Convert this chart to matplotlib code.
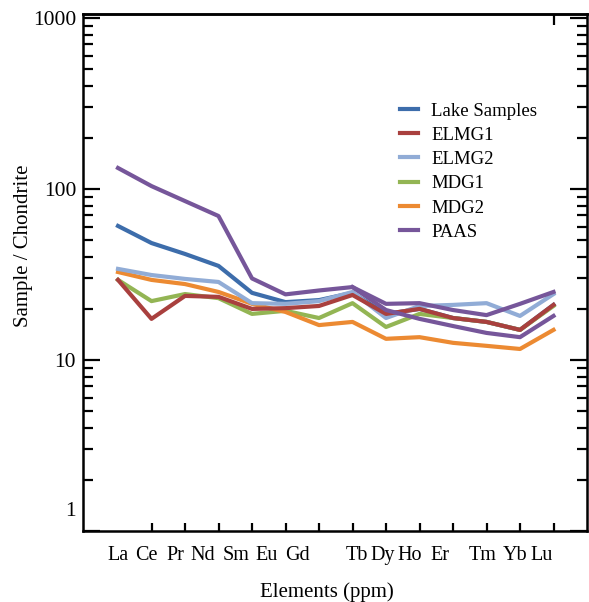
import matplotlib.pyplot as plt
from matplotlib.transforms import ScaledTranslation

plt.rcParams['font.family'] = ['Liberation Serif', 'DejaVu Serif']

elements = ['La', 'Ce', 'Pr', 'Nd', 'Sm', 'Eu', 'Gd', 'Tb', 'Dy', 'Ho', 'Er', 'Tm', 'Yb', 'Lu']

lake = [60.8, 48.3, 41.7, 35.5, 24.7, 21.8, 22.4, 24.7, 18.6, 19.9, 17.6, 16.7, 15.0, 21.0]
elmg1 = [29.4, 17.4, 23.7, 23.4, 19.9, 20.1, 20.7, 24.0, 18.6, 19.9, 17.6, 16.7, 15.0, 21.0]
elmg2 = [34.1, 31.4, 29.8, 28.6, 21.5, 21.3, 22.1, 25.0, 17.6, 20.7, 21.0, 21.5, 18.1, 24.3]
mdg1 = [29.4, 22.1, 24.3, 23.0, 18.6, 19.4, 17.6, 21.5, 15.6, 18.6, 17.6, 16.7, 15.0, 20.7]
mdg2 = [32.7, 29.4, 27.8, 25.0, 21.3, 19.1, 16.0, 16.7, 13.3, 13.6, 12.6, 12.1, 11.6, 15.0]
paas = [132.7, 104.0, 85.0, 69.5, 30.0, 24.2, 25.5, 26.7, 21.3, 21.5, 19.6, 18.3, 21.3, 25.0]
# second purple trace (Tb..Lu) that shows in the figure without a legend entry
paas_b = [26.7, 19.6, 17.4, 15.8, 14.4, 13.6, 18.1]

# where the element names sit under the axis (they are not centred on the ticks)
label_pos = [0, 0.84, 1.70, 2.54, 3.52, 4.45, 5.37, 7.13, 7.91, 8.72, 9.61, 10.87, 11.85, 12.66]

x = list(range(len(elements)))

fig = plt.figure(figsize=(5.89, 6.02), dpi=100)
ax = fig.add_axes([83/589, 1 - 531/602, (587 - 83)/589, (531 - 14)/602])

lw = 3.0
ax.plot(x, lake, color='#3d6dab', lw=lw, label='Lake Samples', zorder=2)
ax.plot(x, elmg1, color='#a9403e', lw=lw, label='ELMG1', zorder=5)
ax.plot(x, elmg2, color='#91acd6', lw=lw, label='ELMG2', zorder=4)
ax.plot(x, mdg1, color='#93b554', lw=lw, label='MDG1', zorder=3)
ax.plot(x, mdg2, color='#ec8a32', lw=lw, label='MDG2', zorder=3)
ax.plot(x, paas, color='#76569a', lw=lw, label='PAAS', zorder=6)
ax.plot(x[7:], paas_b, color='#76569a', lw=lw, zorder=6)

ax.set_yscale('log')
ax.set_ylim(1, 10 ** ((531 - 14) / 171))
ax.set_xlim(-1.045, 14.0)

ax.set_yticks([1, 10, 100, 1000])
ax.set_yticklabels(['1', '10', '100', '1000'], fontsize=15.5)
ax.tick_params(axis='y', which='major', direction='in', length=12, width=1.6,
               left=True, right=True, pad=5)
ax.tick_params(axis='y', which='minor', direction='in', length=7, width=1.6,
               left=True, right=True)
# the "1" sits a little above the bottom line in the original
lab1 = ax.get_yticklabels()[0]
lab1.set_transform(lab1.get_transform() + ScaledTranslation(0, 0.22, fig.dpi_scale_trans))

ax.set_xticks(label_pos)
ax.set_xticklabels(elements, fontsize=14.5)
ax.set_xticks(x, minor=True)
ax.tick_params(axis='x', which='major', length=0, pad=11)
ax.tick_params(axis='x', which='minor', direction='in', length=6, width=1.6)

top = ax.secondary_xaxis('top')
top.set_xticks([13])
top.tick_params(direction='in', length=8, width=1.6, labeltop=False)
top.spines['top'].set_linewidth(1.8)

for s in ax.spines.values():
    s.set_linewidth(1.8)

ax.set_xlabel('Elements (ppm)', fontsize=15)
ax.set_ylabel('Sample / Chondrite', fontsize=15)
ax.xaxis.set_label_coords(0.483, -0.1)
ax.yaxis.set_label_coords(-0.1, 0.551)

ax.legend(loc='upper left', bbox_to_anchor=(0.628, 0.829), frameon=False,
          fontsize=13.5, handlelength=1.0, handletextpad=0.7, labelspacing=0.38,
          borderpad=0, borderaxespad=0)

fig.savefig('out.png', dpi=100)
